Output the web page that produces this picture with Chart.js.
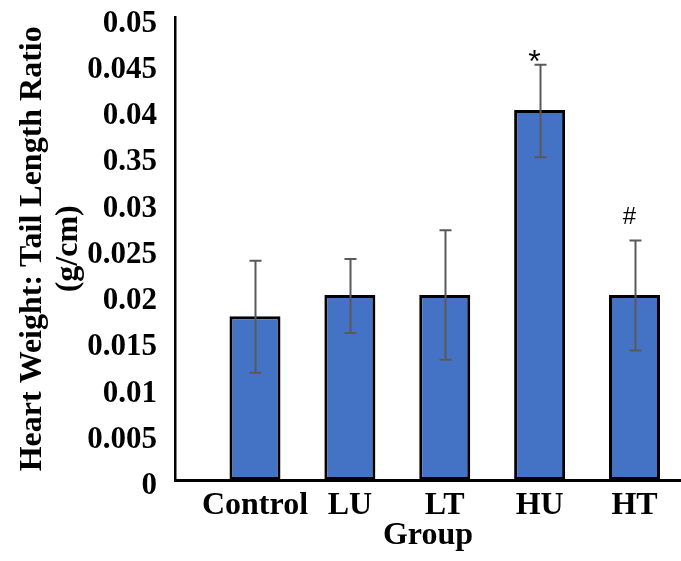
<!DOCTYPE html>
<html>
<head>
<meta charset="utf-8">
<script src="https://cdn.jsdelivr.net/npm/chart.js@4.4.1/dist/chart.umd.min.js"></script>
<style>
  html, body { margin: 0; padding: 0; background: #fff; overflow: hidden; }
  #chart { display: block; }
</style>
</head>
<body>
<canvas id="chart" width="681" height="561"></canvas>
<script>
const categories = ['Control', 'LU', 'LT', 'HU', 'HT'];
const means = [0.0177, 0.0200, 0.0200, 0.0400, 0.0200];
const errUpper = [0.0237, 0.0239, 0.0270, 0.0449, 0.0259];
const errLower = [0.0116, 0.0159, 0.0130, 0.0349, 0.0140];
const marks = ['', '', '', '*', '#'];
const yTickLabels = ['0', '0.005', '0.01', '0.015', '0.02', '0.025', '0.03', '0.35', '0.04', '0.045', '0.05'];

const serif = "'Liberation Serif', 'Times New Roman', serif";

// error bars and significance marks drawn over the bars
const errorBars = {
  id: 'errorBars',
  afterDatasetsDraw(chart) {
    const { ctx, scales: { x, y } } = chart;
    const markStyle = { '*': { size: 32, lift: -7 }, '#': { size: 24, lift: 16 } };
    ctx.save();
    ctx.strokeStyle = '#595959';
    ctx.lineWidth = 2;
    means.forEach((m, i) => {
      const px = Math.round(x.getPixelForValue(i)) + 0.5;
      const top = y.getPixelForValue(errUpper[i]);
      const bot = y.getPixelForValue(errLower[i]);
      ctx.beginPath();
      ctx.moveTo(px, top); ctx.lineTo(px, bot);
      ctx.moveTo(px - 6, top); ctx.lineTo(px + 6, top);
      ctx.moveTo(px - 6, bot); ctx.lineTo(px + 6, bot);
      ctx.stroke();
      const st = markStyle[marks[i]];
      if (st) {
        ctx.fillStyle = '#000';
        ctx.font = st.size + "px 'Liberation Sans', Arial, sans-serif";
        ctx.textAlign = 'center';
        ctx.textBaseline = 'alphabetic';
        ctx.fillText(marks[i], px - 6, top - st.lift);
      }
    });
    ctx.restore();
  }
};

new Chart(document.getElementById('chart'), {
  type: 'bar',
  data: {
    datasets: [{
      data: means.map((v, i) => ({ x: i, y: v })),
      backgroundColor: '#4472C4',
      borderColor: '#000',
      borderWidth: 3,
      borderSkipped: false,
      categoryPercentage: 1,
      barPercentage: 0.5375
    }]
  },
  options: {
    responsive: false,
    animation: false,
    layout: { padding: { top: 17.5, right: 0, bottom: 0, left: 0 } },
    plugins: { legend: { display: false }, tooltip: { enabled: false } },
    scales: {
      x: {
        type: 'linear',
        offset: false,
        min: -0.843,
        max: 4.49,
        afterBuildTicks: s => { s.ticks = categories.map((c, i) => ({ value: i })); },
        afterFit: s => { s.height = 81; s.paddingLeft = 0; s.paddingRight = 0; },
        grid: { display: false, drawTicks: false, offset: false },
        border: { display: true, color: '#000', width: 3 },
        ticks: {
          autoSkip: false,
          maxRotation: 0,
          padding: 7,
          color: '#000',
          font: { family: serif, size: 32, weight: 'bold' },
          callback: (v, i) => categories[i]
        },
        title: {
          display: true,
          text: 'Group',
          color: '#000',
          font: { family: serif, size: 32, weight: 'bold' },
          padding: { top: 0, bottom: 6 }
        }
      },
      y: {
        min: 0,
        max: 0.05,
        afterFit: s => { s.width = 175; s.paddingTop = 0; s.paddingBottom = 0; },
        grid: { display: false, drawTicks: false },
        border: { display: true, color: '#000', width: 2.5 },
        ticks: {
          stepSize: 0.005,
          padding: 18,
          labelOffset: 6,
          color: '#000',
          font: { family: serif, size: 31, weight: 'bold', lineHeight: 1 },
          callback: (v, i) => yTickLabels[i]
        },
        title: {
          display: true,
          text: ['Heart Weight: Tail Length Ratio', '(g/cm)'],
          color: '#000',
          font: { family: serif, size: 32, weight: 'bold', lineHeight: 1.15 },
          padding: { top: 14, bottom: 0 }
        }
      }
    }
  },
  plugins: [errorBars]
});
</script>
</body>
</html>
